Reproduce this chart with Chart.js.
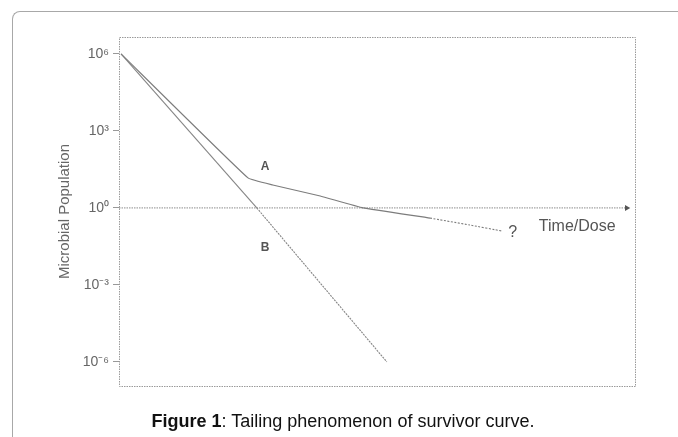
<!DOCTYPE html>
<html>
<head>
<meta charset="utf-8">
<script src="https://cdn.jsdelivr.net/npm/chart.js@4.4.1/dist/chart.umd.min.js"></script>
<style>
    html, body { margin: 0; padding: 0; background: #ffffff; }
    #wrap { position: relative; width: 678px; height: 437px; overflow: hidden; }
    #card {
        position: absolute; left: 12px; top: 11px; width: 720px; height: 500px;
        border-top: 1px solid #a8a8a8; border-left: 1px solid #a8a8a8;
        border-top-left-radius: 8px; box-sizing: border-box;
    }
    #chart { position: absolute; left: 0; top: 0; }
    #caption {
        position: absolute; left: 0; top: 411px; width: 686px; text-align: center;
        font-family: 'Liberation Sans', Arial, sans-serif; font-size: 18px;
        line-height: 20px; color: #111111;
    }
</style>
</head>
<body>
<div id="wrap">
    <div id="card"></div>
    <canvas id="chart" width="678" height="437"></canvas>
    <div id="caption"><b>Figure 1</b>: Tailing phenomenon of survivor curve.</div>
</div>
<script>
/* ---- data ---- */

// curve A: fast kill, then a tail
var curveA_x = [0.4, 25.0, 29.8, 39.0, 47.3, 60.3, 68.0, 74.2];
var curveA_y = [1e6, 14.7, 7.8, 2.9, 1.0, 0.40, 0.215, 0.126];

// curve B: straight log-linear kill
var curveB_x = [0.4, 26.7, 51.9];
var curveB_y = [1e6, 1.0, 1e-6];

// time/dose axis drawn at 10^0
var axisLine_x = [0, 98.4];
var axisLine_y = [1, 1];

var yTickValues = [1e-6, 1e-3, 1, 1e3, 1e6];
var yTickLabels = ['10\u207B\u2076', '10\u207B\u00B3', '10\u2070', '10\u00B3', '10\u2076'];

function pts(xs, ys) {
    return xs.map(function (x, i) { return { x: x, y: ys[i] }; });
}

var FONT = "'Liberation Sans', Arial, sans-serif";

/* frame + text marks placed in data space */
var marksPlugin = {
    id: 'marks',
    beforeDatasetsDraw: function (chart) {
        var a = chart.chartArea, ctx = chart.ctx;
        ctx.save();
        ctx.strokeStyle = '#9a9a9a';
        ctx.lineWidth = 1;
        ctx.setLineDash([1.5, 1]);
        ctx.strokeRect(a.left + 0.5, a.top + 0.5, a.right - a.left, a.bottom - a.top);
        ctx.restore();
    },
    afterDatasetsDraw: function (chart, args, opts) {
        var ctx = chart.ctx, xs = chart.scales.x, ys = chart.scales.y;
        ctx.save();
        ctx.textAlign = 'center';
        ctx.textBaseline = 'middle';
        opts.items.forEach(function (it) {
            ctx.fillStyle = it.color;
            ctx.font = it.font;
            ctx.fillText(it.text, xs.getPixelForValue(it.x), ys.getPixelForValue(it.y));
        });
        ctx.restore();
    }
};

new Chart(document.getElementById('chart').getContext('2d'), {
    type: 'line',
    data: {
        datasets: [
            {
                data: pts(curveA_x, curveA_y),
                borderColor: '#7c7c7c',
                borderWidth: 1.1,
                pointRadius: 0,
                tension: 0.1,
                segment: {
                    borderDash: function (c) { return c.p0DataIndex >= 5 ? [2, 1.5] : undefined; }
                }
            },
            {
                data: pts(curveB_x, curveB_y),
                borderColor: '#858585',
                borderWidth: 1.1,
                pointRadius: 0,
                segment: {
                    borderDash: function (c) { return c.p0DataIndex >= 1 ? [2, 1] : undefined; }
                }
            },
            {
                data: pts(axisLine_x, axisLine_y),
                borderColor: '#8c8c8c',
                borderWidth: 1,
                borderDash: [1.5, 1],
                pointRadius: [0, 3.5],
                pointStyle: 'triangle',
                rotation: 90,
                pointBackgroundColor: '#555555',
                pointBorderColor: '#555555',
                pointBorderWidth: 0
            }
        ]
    },
    options: {
        responsive: false,
        animation: false,
        layout: { padding: { left: 52, top: 37, right: 43, bottom: 51 } },
        plugins: {
            legend: { display: false },
            tooltip: { enabled: false },
            marks: {
                items: [
                    { text: 'A', x: 28.3, y: 39, font: 'bold 12px ' + FONT, color: '#555555' },
                    { text: 'B', x: 28.3, y: 0.027, font: 'bold 12px ' + FONT, color: '#555555' },
                    { text: '?', x: 76.3, y: 0.105, font: '16px ' + FONT, color: '#555555' },
                    { text: 'Time/Dose', x: 88.8, y: 0.18, font: '16px ' + FONT, color: '#555555' }
                ]
            }
        },
        scales: {
            x: {
                type: 'linear',
                min: 0,
                max: 100,
                display: false
            },
            y: {
                type: 'logarithmic',
                min: Math.pow(10, -6.94),
                max: Math.pow(10, 6.66),
                afterFit: function (s) { s.width = 67; },
                afterBuildTicks: function (s) {
                    s.ticks = yTickValues.map(function (v) { return { value: v }; });
                },
                ticks: {
                    color: '#666666',
                    font: { family: FONT, size: 14 },
                    padding: 4,
                    autoSkip: false,
                    callback: function (v) {
                        var i = yTickValues.indexOf(v);
                        return i >= 0 ? yTickLabels[i] : '';
                    }
                },
                grid: {
                    drawOnChartArea: false,
                    drawTicks: true,
                    tickLength: 6,
                    color: '#999999'
                },
                border: { display: false },
                title: {
                    display: true,
                    text: 'Microbial Population',
                    color: '#666666',
                    font: { family: FONT, size: 15 },
                    padding: { top: 4, bottom: 4 }
                }
            }
        }
    },
    plugins: [marksPlugin]
});
</script>
</body>
</html>
